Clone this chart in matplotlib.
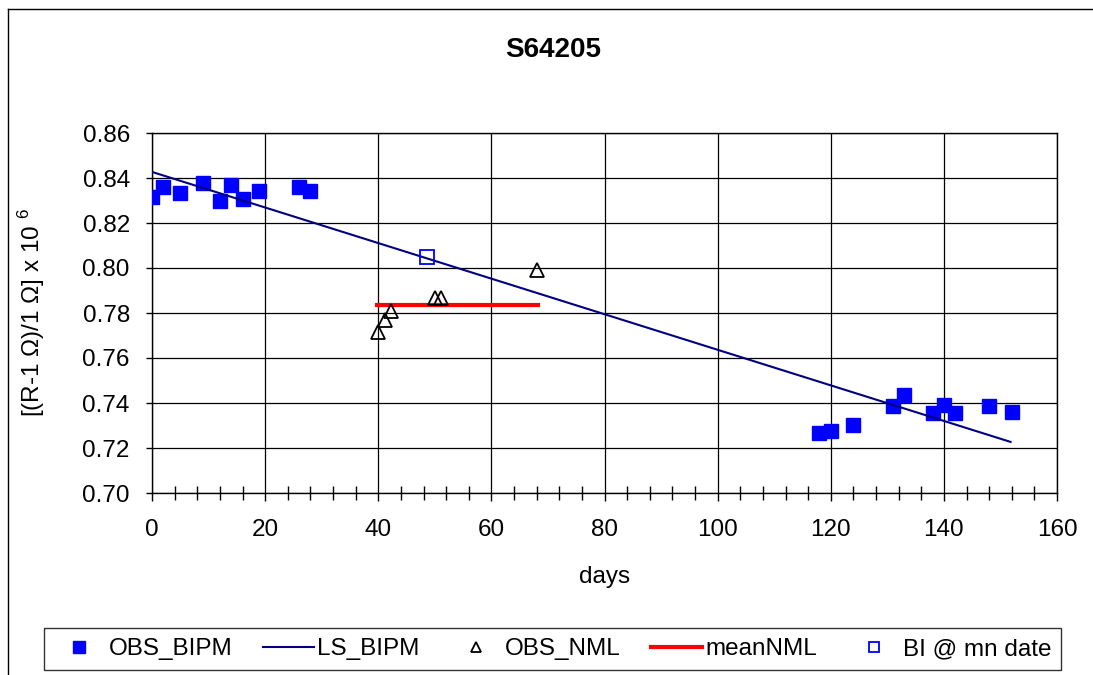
import numpy as np
import matplotlib.pyplot as plt
from matplotlib.lines import Line2D
from matplotlib.ticker import MultipleLocator

plt.rcParams['font.family'] = ['Liberation Sans', 'DejaVu Sans']
plt.rcParams['mathtext.fontset'] = 'custom'
plt.rcParams['mathtext.rm'] = 'Liberation Sans'

# observations at BIPM
obs_bipm_days = [0, 2, 5, 9, 12, 14, 16, 19, 26, 28,
                 118, 120, 124, 131, 133, 138, 140, 142, 148, 152]
obs_bipm_vals = [0.8316, 0.8360, 0.8333, 0.8378, 0.8298, 0.8369, 0.8307, 0.8342, 0.8360, 0.8342,
                 0.7267, 0.7276, 0.7302, 0.7387, 0.7436, 0.7356, 0.7391, 0.7356, 0.7387, 0.7360]

# least squares fit of BIPM data
ls_days = [0, 151.8]
ls_vals = [0.8427, 0.7227]

# observations at NML
obs_nml_days = [40.0, 41.2, 42.2, 50.0, 51.1, 68.1]
obs_nml_vals = [0.7716, 0.7771, 0.7809, 0.7867, 0.7867, 0.7991]

# mean of NML over its measurement period
mean_nml_days = [39.8, 68.2]
mean_nml_vals = [0.7836, 0.7836]

# BIPM value at NML mean date
bi_days = [48.6]
bi_vals = [0.8049]

title = 'S64205'
x_ticks = [0, 20, 40, 60, 80, 100, 120, 140, 160]
y_ticks = [0.70, 0.72, 0.74, 0.76, 0.78, 0.80, 0.82, 0.84, 0.86]

FS = 17.5


def main():
    fig = plt.figure(figsize=(10.93, 6.75), dpi=100)
    ax = fig.add_axes([152 / 1093, 1 - 493 / 675, (1057 - 152) / 1093, (493 - 133) / 675])

    ax.plot(obs_bipm_days, obs_bipm_vals, 's', color='#0000ff', markersize=10,
            markeredgecolor='#0000ff', label='OBS_BIPM', zorder=3)
    ax.plot(ls_days, ls_vals, '-', color='#000080', linewidth=1.5, label='LS_BIPM', zorder=4)
    ax.plot(obs_nml_days, obs_nml_vals, '^', markerfacecolor='none', markeredgecolor='black',
            markersize=9.5, markeredgewidth=1.3, label='OBS_NML', zorder=5)
    ax.plot(mean_nml_days, mean_nml_vals, '-', color='#ff0000', linewidth=3, label='meanNML', zorder=4)
    ax.plot(bi_days, bi_vals, 's', markerfacecolor='none', markeredgecolor='#0000ff',
            markersize=9.5, markeredgewidth=1.3, label='BI @ mn date', zorder=5)

    # axes and grid
    ax.set_xlim(0, 160)
    ax.set_ylim(0.70, 0.86)
    ax.set_xticks(x_ticks)
    ax.set_yticks(y_ticks)
    ax.set_yticklabels(['%.2f' % v for v in y_ticks])
    ax.xaxis.set_minor_locator(MultipleLocator(4))
    ax.grid(True, which='major', color='black', linewidth=0.9)
    ax.tick_params(axis='x', which='major', direction='out', length=6, width=1, pad=13, labelsize=FS)
    ax.tick_params(axis='x', which='minor', direction='inout', length=10, width=1)
    ax.tick_params(axis='y', which='major', direction='out', length=4, width=1, pad=12, labelsize=FS)
    for s in ax.spines.values():
        s.set_color('black')
        s.set_linewidth(1)

    ax.set_xlabel('days', fontsize=FS)
    ax.xaxis.set_label_coords(0.5, (493 - 577) / 360, transform=ax.transAxes)
    ax.xaxis.label.set_va('center')
    ax.set_ylabel('[(R-1 \u03a9)/1 \u03a9] x 10 $^{6}$', fontsize=FS)
    ax.yaxis.set_label_coords((32 - 152) / 905, 0.5, transform=ax.transAxes)
    ax.yaxis.label.set_va('center')
    fig.text(553 / 1093, 1 - 50 / 675, title, ha='center', va='center',
             fontsize=20, fontweight='bold')

    # outer chart border
    fig.add_artist(Line2D([8 / 1093, 8 / 1093], [0, 1 - 9 / 675], transform=fig.transFigure,
                          color='black', linewidth=1))
    fig.add_artist(Line2D([8 / 1093, 1], [1 - 9 / 675, 1 - 9 / 675], transform=fig.transFigure,
                          color='black', linewidth=1))

    # legend, stretched over the box seen in the original
    leg = fig.legend(loc='center', mode='expand',
                     bbox_to_anchor=(44 / 1093, 1 - 673 / 675, (1061 - 44) / 1093, 48 / 675),
                     ncol=5, fontsize=FS, frameon=True, fancybox=False, edgecolor='black',
                     handlelength=2.1, handletextpad=0.15, columnspacing=0.5, borderpad=0.4,
                     borderaxespad=0, markerscale=0.8)
    leg.get_frame().set_linewidth(1)

    fig.savefig('out.png', dpi=100)


if __name__ == "__main__":
    main()
